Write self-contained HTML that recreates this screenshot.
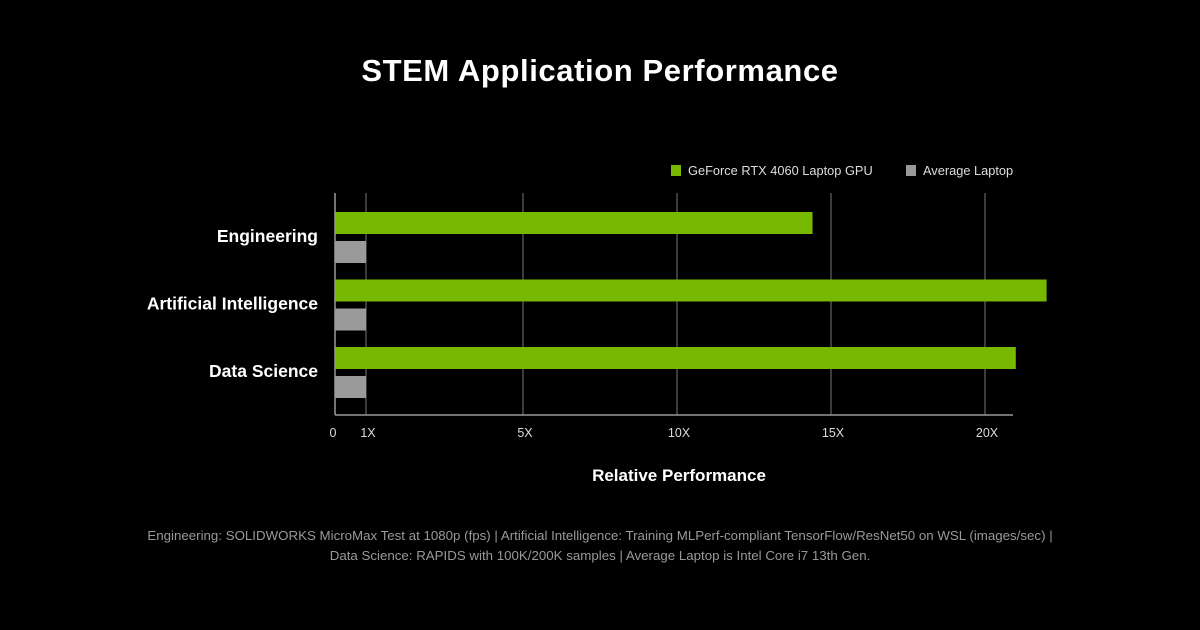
<!DOCTYPE html>
<html><head><meta charset="utf-8"><style>
body{margin:0;background:#000;width:1200px;height:630px;overflow:hidden;font-family:"Liberation Sans",sans-serif;}
</style></head><body>
<svg width="1200" height="630" id="c" style="position:absolute;left:0;top:0">
<text x="600" y="81" text-anchor="middle" fill="#fff" font-size="31" font-weight="bold" letter-spacing="0.6">STEM Application Performance</text>
<g>
<rect x="671" y="165" width="10" height="11" fill="#76b900"/>
<text x="688" y="175" fill="#ddd" font-size="12.8">GeForce RTX 4060 Laptop GPU</text>
<rect x="906" y="165" width="10" height="11" fill="#999"/>
<text x="923" y="175" fill="#ddd" font-size="12.8">Average Laptop</text>
</g>
<text x="679" y="481" text-anchor="middle" fill="#fff" font-size="17" font-weight="bold">Relative Performance</text>
<text x="600" y="540" text-anchor="middle" fill="#999" font-size="13.3">Engineering: SOLIDWORKS MicroMax Test at 1080p (fps) | Artificial Intelligence: Training MLPerf-compliant TensorFlow/ResNet50 on WSL (images/sec) |</text>
<text x="600" y="560" text-anchor="middle" fill="#999" font-size="13.3">Data Science: RAPIDS with 100K/200K samples |  Average Laptop is Intel Core i7 13th Gen.</text>
</svg>
<script>
const categories=["Engineering","Artificial Intelligence","Data Science"];
const rtxValues=[14.4,22.0,21.0];
const avgValues=[1,1,1];
const tickValues=[0,1,5,10,15,20];
const tickLabels=["0","1X","5X","10X","15X","20X"];
function xs(v){if(v<=1)return 335+31*v;if(v<=5)return 366+39.25*(v-1);return 523+30.8*(v-5);}
const svg=document.getElementById('c');const NS='http://www.w3.org/2000/svg';
function mk(t,a){const e=document.createElementNS(NS,t);for(const k in a)e.setAttribute(k,a[k]);svg.appendChild(e);return e;}
tickValues.forEach((v,i)=>{
 if(v>0){const g=mk('line',{x1:xs(v),x2:xs(v),y1:193,y2:415,stroke:'#777','stroke-width':1});
 
 }
 const t=mk('text',{x:i==0?xs(v)-2:xs(v)+2,y:437,fill:'#ddd','font-size':12.5,'text-anchor':'middle'});t.textContent=tickLabels[i];
 
 
});
categories.forEach((c,i)=>{
 const y0=212+i*67.5;
 const b=mk('rect',{x:xs(0),y:y0,width:xs(rtxValues[i])-xs(0),height:22,fill:'#76b900'});
 
 
 const g=mk('rect',{x:xs(0),y:y0+29,width:xs(avgValues[i])-xs(0),height:22,fill:'#9a9a9a'});
 
 
 const t=mk('text',{x:318,y:y0+30,fill:'#fff','font-size':17.5,'font-weight':'bold','text-anchor':'end'});t.textContent=c;
 
 
});
const ax=mk('line',{x1:335,x2:1013,y1:415,y2:415,stroke:'#999','stroke-width':1.5});


const ay=mk('line',{x1:335,x2:335,y1:193,y2:415,stroke:'#999','stroke-width':1.5});


</script>
</body></html>
